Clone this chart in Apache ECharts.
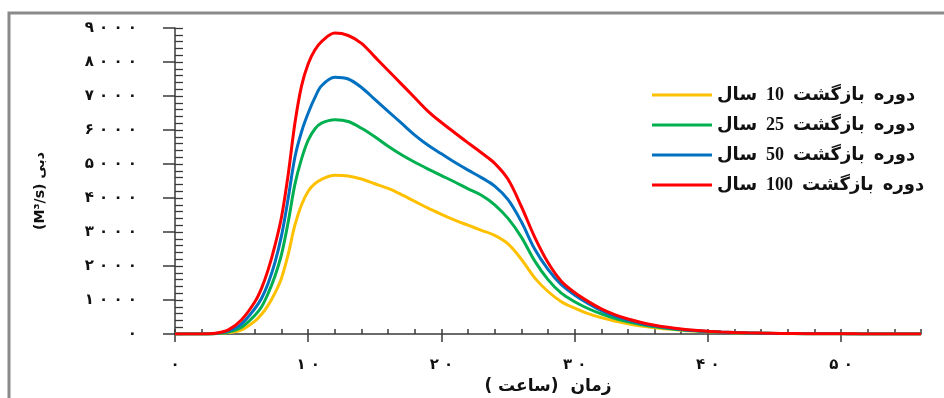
<!DOCTYPE html>
<html><head><meta charset="utf-8">
<script src="https://cdn.jsdelivr.net/npm/echarts@6/dist/echarts.min.js"></script>
<style>html,body{margin:0;padding:0;background:#fff}#c{width:944px;height:398px}</style>
</head><body><div id="c"></div>
<script>
const hours = [0,1,2,3,4,5,6, 6.5,7,7.5,8,8.5,9,9.5,10,10.5,11];
for (let h = 12; h <= 56; h++) hours.push(h);
const seriesNames = ['دوره  بازگشت  10  سال','دوره  بازگشت  25  سال','دوره  بازگشت  50  سال','دوره  بازگشت  100  سال'];
const q10 = [0,0,0,5,40,120,380, 580,850,1200,1650,2350,3200,3800,4200,4420,4550, 4670,4650,4560,4420,4280,4100,3900,3700,3520,3350,3200,3050,2900,2650,2200,1650,1250,950,760,600,480,380,300,235,185,145,110,85,65,48,36,27,20,15,11,8,6,5,4,3,2,1,1,0,0];
const q25 = [0,0,0,10,60,200,550, 800,1200,1700,2350,3300,4400,5150,5700,6030,6200, 6300,6250,6050,5800,5520,5270,5050,4850,4660,4470,4270,4080,3800,3400,2850,2150,1600,1200,950,750,590,460,360,280,215,165,125,95,70,52,39,29,22,17,13,10,7,5,4,3,2,1,1,0,0];
const q50 = [0,0,0,15,90,300,750, 1050,1500,2100,2900,4000,5200,5950,6500,6950,7300, 7550,7500,7250,6900,6550,6200,5850,5550,5300,5050,4820,4600,4350,3950,3300,2500,1900,1450,1150,900,690,530,410,310,240,180,135,100,75,56,42,32,24,18,14,10,8,6,4,3,2,1,1,0,0];
const q100 = [0,0,0,20,120,420,950, 1350,1900,2600,3450,4700,6200,7300,7950,8350,8600, 8850,8780,8550,8150,7750,7350,6950,6550,6220,5920,5620,5330,5020,4550,3750,2850,2100,1550,1220,960,740,570,440,340,260,200,150,110,80,60,45,35,27,21,16,12,9,7,5,4,3,2,1,0,0];
const xTickValues = [0,10,20,30,40,50];
const xTickLabels = ['۰','۱ ۰','۲ ۰','۳ ۰','۴ ۰','۵ ۰'];
const yTickValues = [0,1000,2000,3000,4000,5000,6000,7000,8000,9000];
const yTickLabels = ['۰','۱ ۰ ۰ ۰','۲ ۰ ۰ ۰','۳ ۰ ۰ ۰','۴ ۰ ۰ ۰','۵ ۰ ۰ ۰','۶ ۰ ۰ ۰','۷ ۰ ۰ ۰','۸ ۰ ۰ ۰','۹ ۰ ۰ ۰'];
const xTitle = '\u200Fزمان  (ساعت )\u200F';
const yTitle = '(M³/s) دبی';
const colors = ['#FFC000','#00B050','#0070C0','#FF0000'];
const allData = [q10,q25,q50,q100];

const lab = {fontFamily:'DejaVu Sans', fontWeight:'bold', fontSize:15, color:'#111'};
const chart = echarts.init(document.getElementById('c'), null, {renderer:'canvas'});
chart.setOption({
  animation:false,
  grid:{left:175, right:23, top:28, bottom:64, containLabel:false, outerBoundsMode:'none'},
  legend:{
    orient:'vertical', left:647, top:81, itemWidth:60, itemHeight:3, itemGap:12,
    icon:'rect', data:seriesNames,
    textStyle:{fontFamily:'Liberation Serif, DejaVu Sans', fontWeight:'bold', fontSize:18, color:'#111', lineHeight:18, padding:[0,0,0,0]}
  },
  xAxis:[{
    type:'value', min:0, max:56, interval:10, position:'bottom',
    axisLine:{lineStyle:{color:'#3a3a3a', width:1.5}},
    axisTick:{show:true, inside:false, length:8, lineStyle:{color:'#3a3a3a', width:1.5}},
    axisLabel:{margin:24, showMaxLabel:false, ...lab,
      formatter:v=>{const i=xTickValues.indexOf(v);return i>=0?xTickLabels[i]:'';}},
    splitLine:{show:false},
    name:xTitle, nameLocation:'middle', nameGap:44,
    nameTextStyle:{fontFamily:'DejaVu Sans', fontWeight:'bold', fontSize:17, color:'#111'}
  },{
    type:'value', min:0, max:56, interval:2, position:'bottom',
    axisLine:{show:false},
    axisTick:{show:true, inside:true, length:5, lineStyle:{color:'#3a3a3a', width:1.5}},
    axisLabel:{show:false}, splitLine:{show:false}
  }],
  yAxis:[{
    type:'value', min:0, max:9000, interval:1000, position:'left',
    axisLine:{show:true, lineStyle:{color:'#3a3a3a', width:1.5}},
    axisTick:{show:true, inside:false, length:12, lineStyle:{color:'#3a3a3a', width:1.5}},
    axisLabel:{margin:38, ...lab,
      formatter:v=>{const i=yTickValues.indexOf(v);return i>=0?yTickLabels[i]:'';}},
    splitLine:{show:false},
    name:yTitle, nameLocation:'middle', nameGap:128, nameRotate:90,
    nameTextStyle:{fontFamily:'DejaVu Sans', fontWeight:'bold', fontSize:14, color:'#111', padding:[0,20,0,0]}
  },{
    type:'value', min:0, max:9000, interval:200, position:'left',
    axisLine:{show:false},
    axisTick:{show:true, inside:true, length:8, lineStyle:{color:'#3a3a3a', width:1.3}},
    axisLabel:{show:false}, splitLine:{show:false}
  }],
  graphic:[{type:'rect', shape:{x:9, y:13, width:1000, height:420}, style:{fill:'none', stroke:'#8a8a8a', lineWidth:3}, z:-1}],
  series: allData.map((d,k)=>({
    name:seriesNames[k], type:'line', xAxisIndex:0, yAxisIndex:0,
    data: hours.map((h,i)=>[h,d[i]]),
    smooth:0.35, showSymbol:false, symbol:'none',
    lineStyle:{color:colors[k], width:3}, itemStyle:{color:colors[k]}
  }))
});
</script></body></html>
